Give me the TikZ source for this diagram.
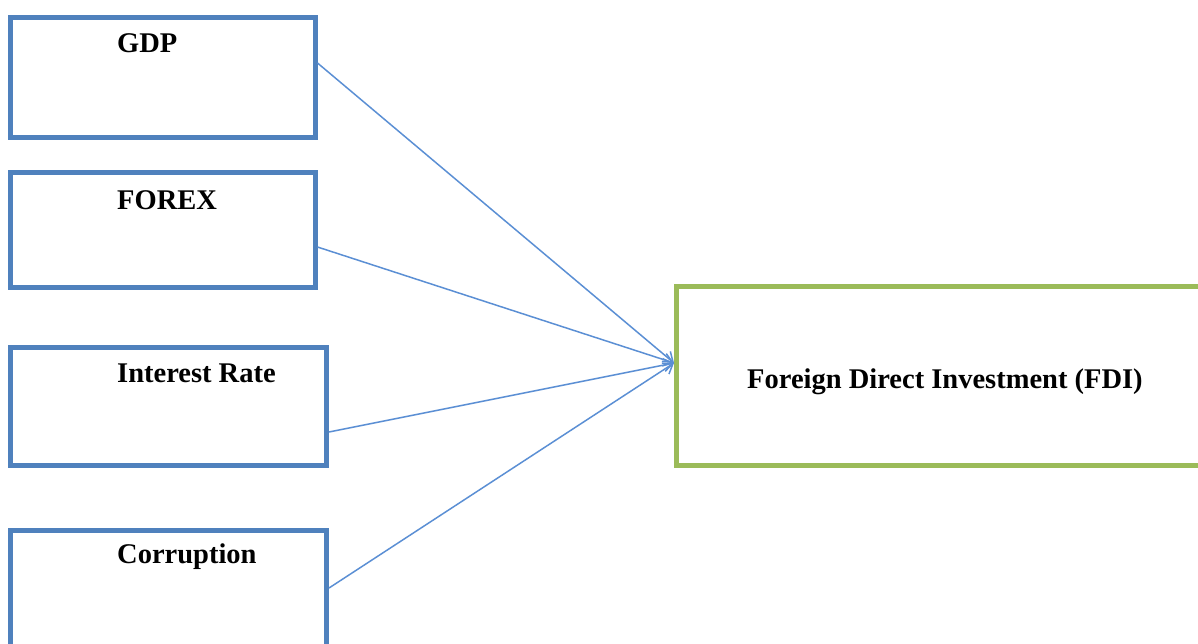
\documentclass[tikz,border=0pt]{standalone}
\usepackage{fontspec}
\setmainfont{Liberation Serif}
\usetikzlibrary{arrows.meta}
\definecolor{boxblue}{HTML}{4F81BD}
\definecolor{boxgreen}{HTML}{9BBB59}
\definecolor{linkblue}{HTML}{5B8FD4}
\tikzset{
  inbox/.style={draw=boxblue, line width=5pt, rectangle, inner sep=0pt},
  outbox/.style={draw=boxgreen, line width=5pt, rectangle, inner sep=0pt},
  lbl/.style={anchor=base west, inner sep=0pt, font=\fontsize{28.5}{32}\selectfont\bfseries},
  link/.style={draw=linkblue, line width=1.5pt, -{Straight Barb[length=9pt,width=13pt,line width=1.5pt]}}
}
\begin{document}
\begin{tikzpicture}[x=1pt,y=-1pt]
\useasboundingbox (0,0) rectangle (1198,643);
\node[inbox, minimum width=304.5pt, minimum height=120.5pt] (gdp) at (162.75,77.25) {};
\node[inbox, minimum width=304.5pt, minimum height=115pt] (forex) at (162.75,230) {};
\node[inbox, minimum width=316pt, minimum height=118pt] (ir) at (168.5,406.5) {};
\node[inbox, minimum width=316pt, minimum height=129.5pt] (corr) at (168.5,595.25) {};
\node[outbox, minimum width=533.5pt, minimum height=179pt] (fdi) at (943.25,376) {};
\node[lbl] (tgdp) at (117,52) {GDP};
\node[lbl] (tforex) at (117,209) {FOREX};
\node[lbl] (tir) at (117,382) {Interest Rate};
\node[lbl] (tcorr) at (117,563) {Corruption};
\node[lbl] (tfdi) at (747,388) {Foreign Direct Investment (FDI)};
\coordinate (tip) at ([yshift=13pt]fdi.west);
\draw[link] ([yshift=14.25pt]gdp.east) -- (tip);
\draw[link] ([yshift=-17pt]forex.east) -- (tip);
\draw[link] ([yshift=-25.5pt]ir.east) -- (tip);
\draw[link] ([yshift=7.25pt]corr.east) -- (tip);
\end{tikzpicture}
\end{document}
